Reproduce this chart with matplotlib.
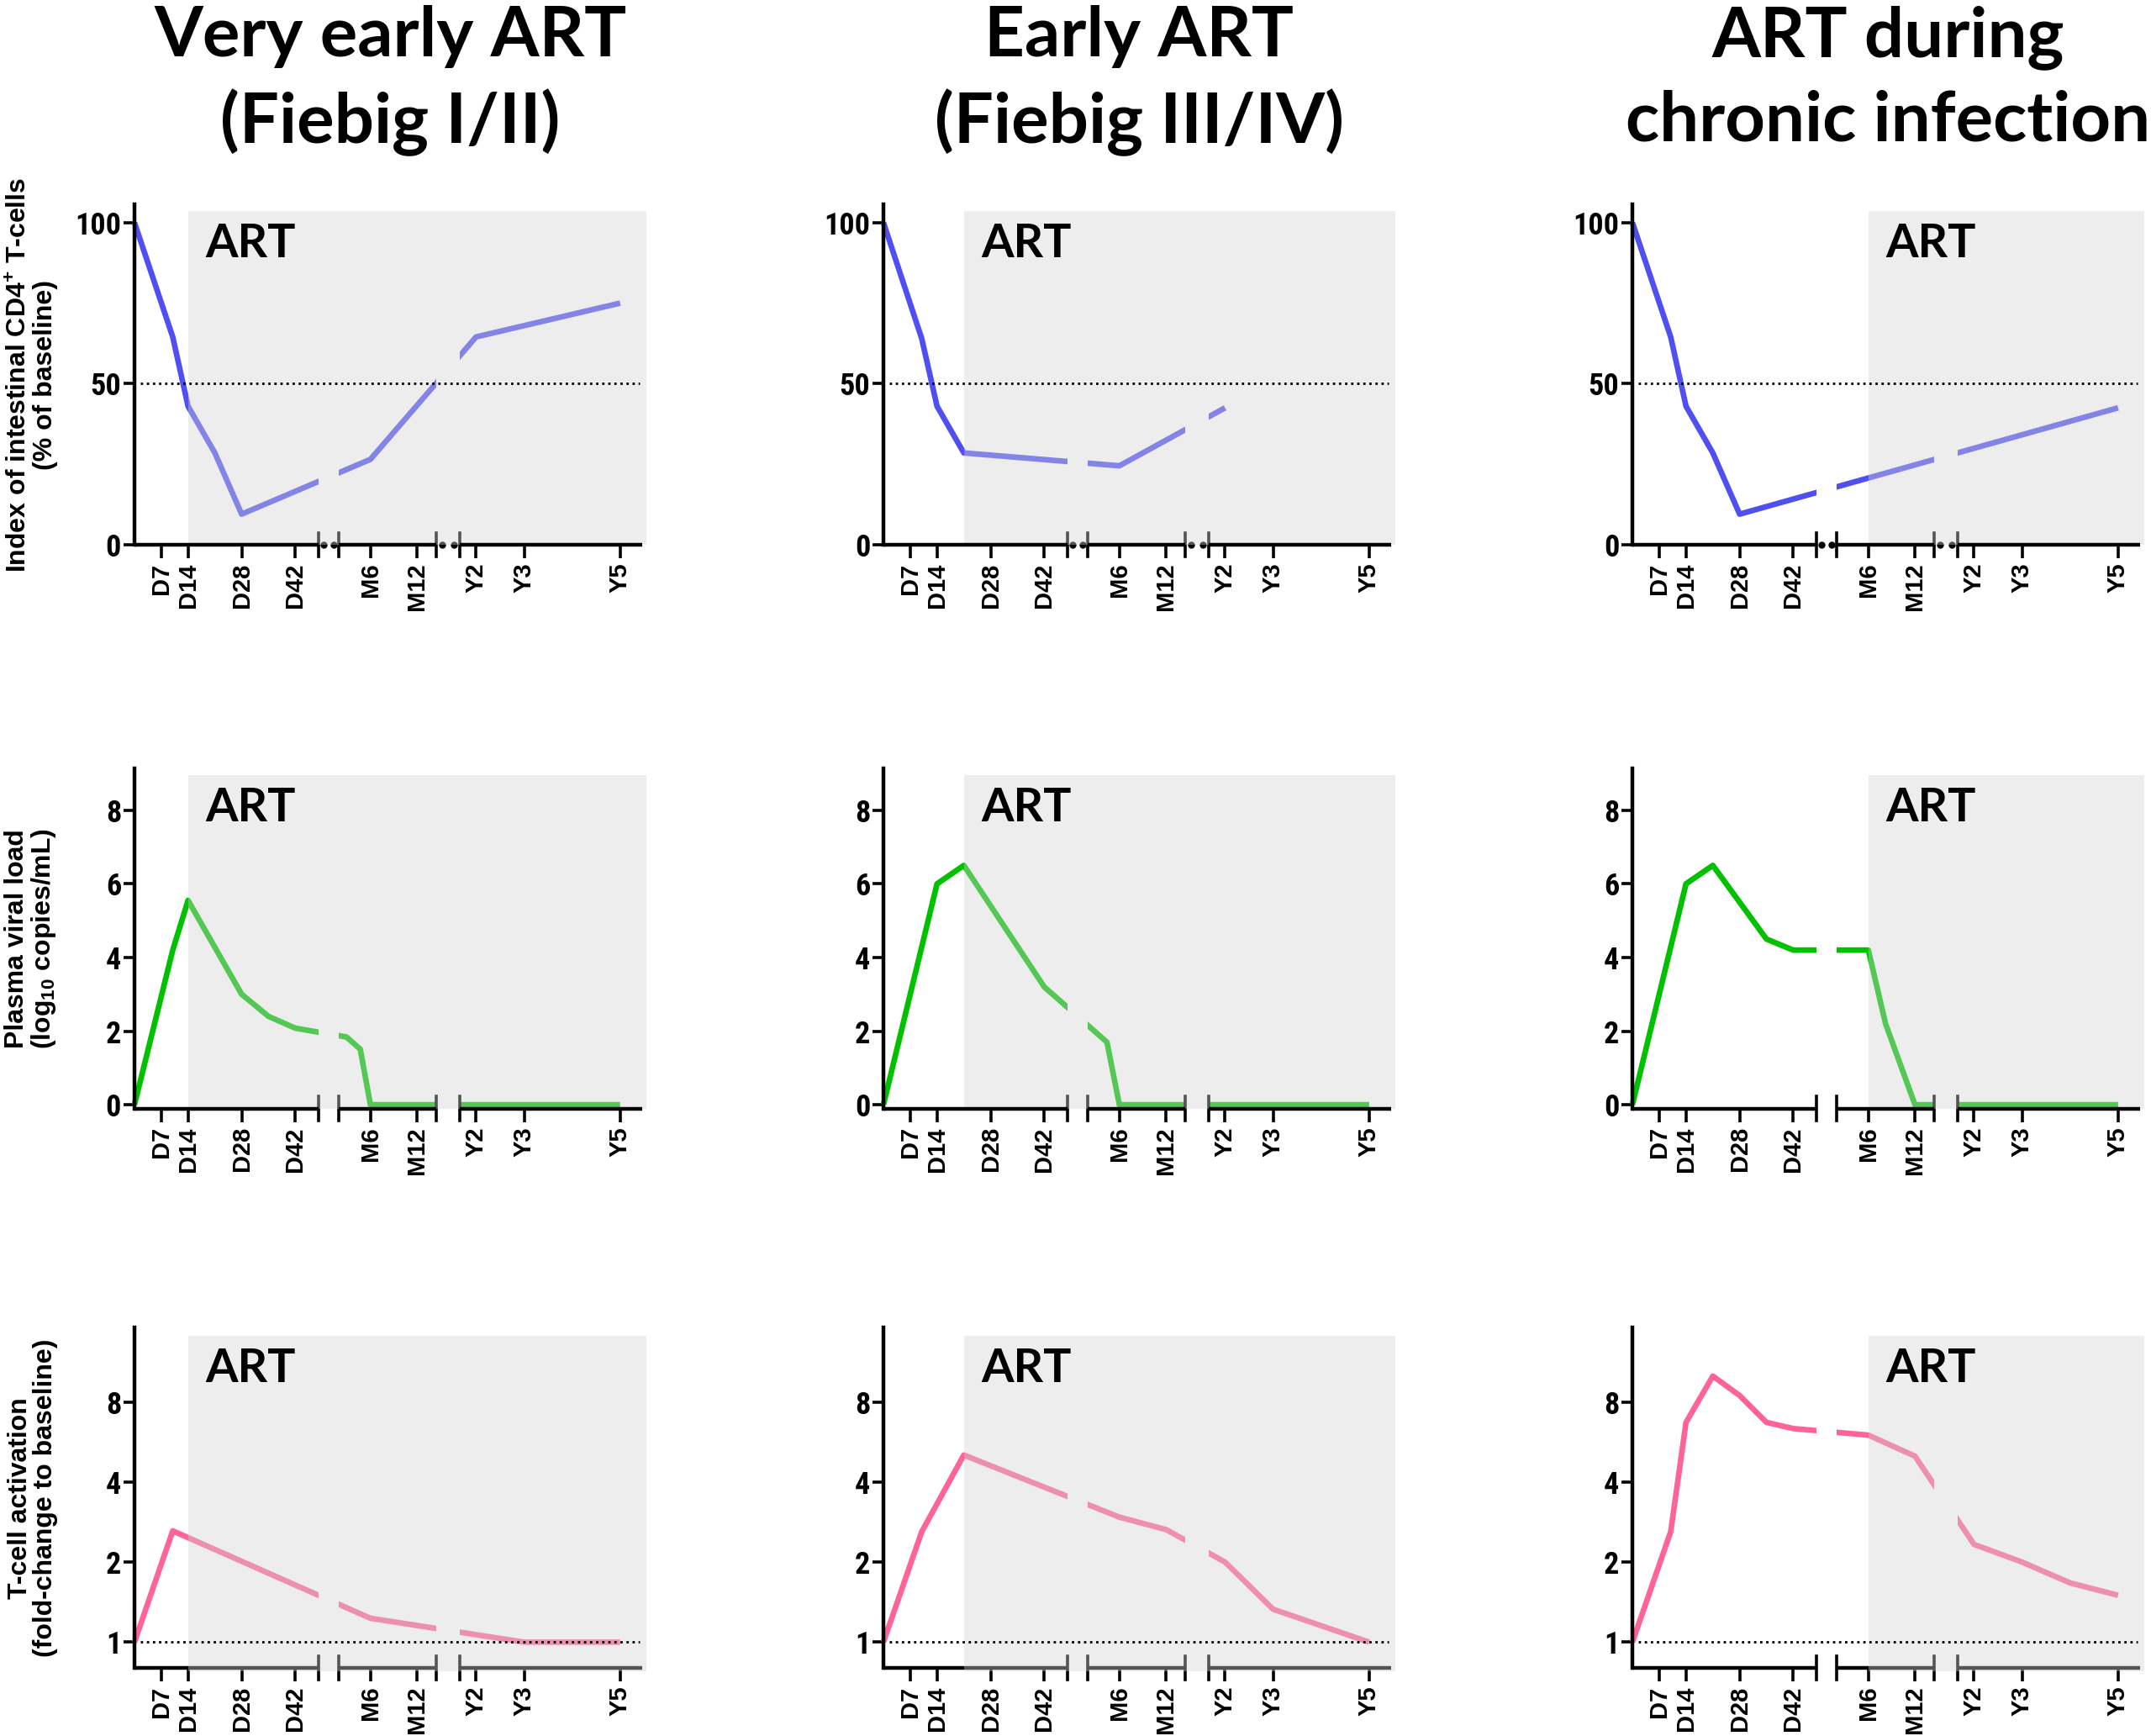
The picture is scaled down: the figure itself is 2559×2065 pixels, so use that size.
import numpy as np
import matplotlib
matplotlib.use("Agg")
import matplotlib.pyplot as plt
from matplotlib.patches import Rectangle
from matplotlib import transforms
from matplotlib.ticker import NullLocator

plt.rcParams["mathtext.fontset"] = "custom"
plt.rcParams["mathtext.bf"] = "Liberation Sans:bold"
plt.rcParams["mathtext.rm"] = "Liberation Sans"
plt.rcParams["font.family"] = ["Liberation Sans", "DejaVu Sans"]

# ---------------- data ----------------
col_titles = ["Very early ART\n(Fiebig I/II)", "Early ART\n(Fiebig III/IV)",
              "ART during\nchronic infection"]
row_ylabels = [r"Index of intestinal CD4$^{\mathbf{+}}$ T-cells" + "\n(% of baseline)",
               r"Plasma viral load" + "\n" + r"(log$_{\mathbf{10}}$ copies/mL)",
               "T-cell activation\n(fold-change to baseline)"]
art_label = "ART"

x_tick_labels = ["D7", "D14", "D28", "D42", "M6", "M12", "Y2", "Y3", "Y5"]
x_tick_days = [7, 14, 28, 42, 182.6, 365.25, 730.5, 1095.75, 1826.25]

art_start_days = [14, 21, 182.6]

# Row 1: intestinal CD4 T-cells (% of baseline)
cd4_days_c1 = [0, 10, 14, 21, 28, 182.6, 730.5, 1826.25]
cd4_vals_c1 = [100, 64.5, 43, 28.5, 9.5, 26.5, 64.5, 75]
cd4_days_c2 = [0, 10, 14, 21, 182.6, 730.5]
cd4_vals_c2 = [100, 64, 43, 28.5, 24.5, 42.5]
cd4_days_c3 = [0, 10, 14, 21, 28, 1826.25]
cd4_vals_c3 = [100, 64.5, 43, 28.5, 9.5, 42.5]

# Row 2: plasma viral load (log10 copies/mL)
vl_days_c1 = [0, 10, 14, 28, 35, 42, 89, 143, 182.6, 1826.25]
vl_vals_c1 = [0, 4.2, 5.55, 3.0, 2.4, 2.08, 1.84, 1.51, 0, 0]
vl_days_c2 = [0, 14, 21, 42, 134, 182.6, 1826.25]
vl_vals_c2 = [0, 6.0, 6.5, 3.2, 1.7, 0, 0]
vl_days_c3 = [0, 14, 21, 35, 42, 182.6, 250, 365.25, 1826.25]
vl_vals_c3 = [0, 6.0, 6.5, 4.5, 4.2, 4.2, 2.2, 0, 0]

# Row 3: T-cell activation (fold-change to baseline)
act_days_c1 = [0, 10, 182.6, 1095.75, 1826.25]
act_vals_c1 = [1, 2.62, 1.23, 1.0, 1.0]
act_days_c2 = [0, 10, 21, 182.6, 365.25, 730.5, 1095.75, 1826.25]
act_vals_c2 = [1, 2.6, 5.05, 2.95, 2.65, 2.0, 1.33, 1.0]
act_days_c3 = [0, 10, 14, 21, 28, 35, 42, 182.6, 365.25, 730.5, 1095.75, 1461, 1826.25]
act_vals_c3 = [1, 2.6, 6.7, 10.0, 8.45, 6.7, 6.35, 6.0, 5.0, 2.33, 2.0, 1.67, 1.5]

series = [
    [(cd4_days_c1, cd4_vals_c1), (cd4_days_c2, cd4_vals_c2), (cd4_days_c3, cd4_vals_c3)],
    [(vl_days_c1, vl_vals_c1), (vl_days_c2, vl_vals_c2), (vl_days_c3, vl_vals_c3)],
    [(act_days_c1, act_vals_c1), (act_days_c2, act_vals_c2), (act_days_c3, act_vals_c3)],
]

row_yticks = [[0, 50, 100], [0, 2, 4, 6, 8], [1, 2, 4, 8]]
row_ref = [50, None, 1]

# ---------------- styling / layout ----------------
row_colors = ["#5050F2", "#00C000", "#FF6496"]
row_ylim = [(0, 105.6), (-0.1, 9.14), (0.80, 15.2)]
row_shade = [(0, 103.5), (-0.1, 8.96), (0.775, 14.2)]

# broken time axis (days) -> axis units
seg_days = [(0, 48), (59.1, 440.5), (605, 1993)]
knots_d = np.array([-100, 0, 48, 59.1, 440.5, 605, 1993, 2400])
knots_x = np.array([-279, 0, 134, 149, 220, 237, 370, 370 + 407 * (133 / 1388)])


def fwd(d):
    return np.interp(d, knots_d, knots_x)


def inv(x):
    return np.interp(x, knots_x, knots_d)


x_right = inv(373)

lefts = [0.0625, 0.4107, 0.7589]
width = 0.2379
bottoms = [0.6862, 0.3615, 0.0392]
height = 0.196

narrow = ["Roboto Condensed", "DejaVu Sans"]
title_font = ["Lato", "DejaVu Sans"]

fig = plt.figure(figsize=(2559 / 200, 2065 / 200), dpi=200)

for c in range(3):
    fig.text(lefts[c] + width / 2, 0.997, col_titles[c], ha="center", va="top",
             fontsize=30, fontweight="bold", family=title_font, linespacing=1.38)

for r in range(3):
    for c in range(3):
        ax = fig.add_axes([lefts[c], bottoms[r], width, height])
        ax.set_xscale("function", functions=(fwd, inv))
        if r == 2:
            ax.set_yscale("log", base=2)
        ax.set_xlim(0, x_right)
        ax.set_ylim(*row_ylim[r])
        ax.patch.set_alpha(0)
        blend = transforms.blended_transform_factory(ax.transData, ax.transAxes)

        days, vals = series[r][c]
        for (s0, s1) in seg_days:
            ln, = ax.plot(days, vals, color=row_colors[r], lw=2.4, zorder=2,
                          solid_joinstyle="round", solid_capstyle="butt")
            pad = 30 if s0 == 0 else 0
            clip = Rectangle((s0 - pad, -1), s1 - s0 + pad, 3, transform=blend)
            ln.set_clip_path(clip)

        # ART shading overlay (translucent, on top of lines)
        a0 = art_start_days[c]
        sb, st = row_shade[r]
        ax.add_patch(Rectangle((a0, sb), x_right - a0, st - sb, facecolor=(0.83, 0.83, 0.83),
                               alpha=0.4, edgecolor="none", zorder=3, clip_on=False))
        ax.annotate(art_label, xy=(a0, st), xycoords="data", xytext=(7.5, -5),
                    textcoords="offset points", ha="left", va="top", fontsize=20,
                    fontweight="bold", family=title_font, zorder=7)

        # reference line
        if row_ref[r] is not None:
            ax.axhline(row_ref[r], xmin=0.012, xmax=368 / 373, color="black", lw=1.0,
                       ls=(0, (1, 1.6)), zorder=4)

        # broken x-axis
        axis_z = 2.5 if r == 2 else 5
        for (s0, s1) in seg_days:
            ax.plot([s0, s1], [0, 0], transform=blend, color="black", lw=1.6,
                    solid_capstyle="butt", clip_on=False, zorder=axis_z)
        for i in range(len(seg_days) - 1):
            for b in (seg_days[i][1], seg_days[i + 1][0]):
                ax.plot([b, b], [-0.035, 0.035], transform=blend, color="black", lw=1.3,
                        clip_on=False, zorder=2.5)
            if r == 0:
                g0, g1 = fwd(seg_days[i][1]), fwd(seg_days[i + 1][0])
                for f in (0.25, 0.75):
                    ax.plot([inv(g0 + f * (g1 - g0))], [0], transform=blend, marker="o",
                            ms=2.0, color="black", clip_on=False, zorder=2.5)

        for s in ("top", "right", "bottom"):
            ax.spines[s].set_visible(False)
        ax.spines["left"].set_linewidth(1.6)
        ax.spines["left"].set_zorder(6)

        ax.set_xticks(x_tick_days)
        ax.set_xticklabels(x_tick_labels, rotation=90, fontsize=10.5, fontweight="bold")
        ax.xaxis.set_minor_locator(NullLocator())
        ax.tick_params(axis="x", length=5.8, width=1.3, pad=2, color="black")
        ax.set_yticks(row_yticks[r])
        ax.set_yticklabels([str(v) for v in row_yticks[r]])
        ax.yaxis.set_minor_locator(NullLocator())
        ax.tick_params(axis="y", length=4.7, width=1.3, pad=1)
        for lbl in ax.get_yticklabels():
            lbl.set_fontfamily(narrow)
            lbl.set_fontweight("bold")
            lbl.set_fontsize(13)

        if c == 0:
            ax.set_ylabel(row_ylabels[r], fontsize=11.5, fontweight="bold", linespacing=1.0)
            ax.yaxis.set_label_coords(-0.15, 0.5)

fig.savefig("out.png", dpi=200)
